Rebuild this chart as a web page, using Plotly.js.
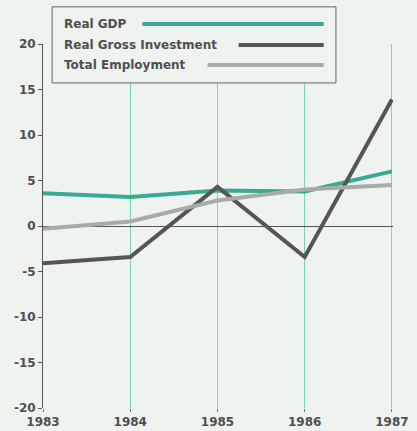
<!DOCTYPE html>
<html><head><meta charset="utf-8">
<script src="https://cdn.plot.ly/plotly-3.0.1.min.js"></script>
<style>html,body{margin:0;padding:0;background:#eef3ef;}#chart{width:417px;height:431px;}</style>
</head><body><div id="chart"></div>
<script>
const years = [1983, 1984, 1985, 1986, 1987];
const realGDP = [3.6, 3.2, 3.9, 3.8, 6.0];
const realGrossInvestment = [-4.1, -3.4, 4.3, -3.4, 13.9];
const totalEmployment = [-0.3, 0.5, 2.8, 4.0, 4.5];
const seriesNames = ['Real GDP', 'Real Gross Investment', 'Total Employment'];
const seriesColors = ['#3aa992', '#555555', '#a9abaa'];
const yTicks = [-20, -15, -10, -5, 0, 5, 10, 15, 20];

const font = {family: 'DejaVu Sans', size: 12, color: '#4f4f4f', weight: 700};
const allY = [realGDP, realGrossInvestment, totalEmployment];
const traces = allY.map((ys, i) => ({
  x: years, y: ys, type: 'scatter', mode: 'lines', name: seriesNames[i],
  line: {color: seriesColors[i], width: 4}, showlegend: false
}));

// custom legend (text left, sample line right)
const rowY = [1.055, 0.997, 0.942];
const sampleStart = [0.284, 0.559, 0.470];
const shapes = [{type: 'rect', xref: 'paper', yref: 'paper', x0: 0.026, x1: 0.837, y0: 0.893, y1: 1.102,
  line: {color: '#666', width: 1}, fillcolor: '#eef3ef', layer: 'above'}];
const annotations = [];
seriesNames.forEach((n, i) => {
  shapes.push({type: 'line', xref: 'paper', yref: 'paper', x0: sampleStart[i], x1: 0.802, y0: rowY[i], y1: rowY[i],
    line: {color: seriesColors[i], width: 4}, layer: 'above'});
  annotations.push({xref: 'paper', yref: 'paper', x: 0.054, y: rowY[i], xanchor: 'left', yanchor: 'middle',
    text: n, showarrow: false, font: font});
});

Plotly.newPlot('chart', traces, {
  width: 417, height: 431,
  margin: {l: 43, r: 24, t: 44, b: 23},
  paper_bgcolor: '#eef3ef', plot_bgcolor: '#eef3ef',
  font: font,
  xaxis: {range: [1983, 1987.012], tickvals: years, ticktext: years.map(String), showgrid: true,
    gridcolor: '#7ad3bb', gridwidth: 1, zeroline: false, showline: false, ticks: 'outside',
    ticklen: 3, tickcolor: '#777', tickfont: font, fixedrange: true},
  yaxis: {range: [-20, 20], tickvals: yTicks, ticktext: yTicks.map(String), showgrid: false,
    zeroline: true, zerolinecolor: '#555', zerolinewidth: 1, showline: true, linecolor: '#555', linewidth: 1,
    ticks: 'outside', ticklen: 4, tickcolor: '#555', tickfont: font, fixedrange: true},
  shapes: shapes, annotations: annotations
}, {staticPlot: true});
</script></body></html>
